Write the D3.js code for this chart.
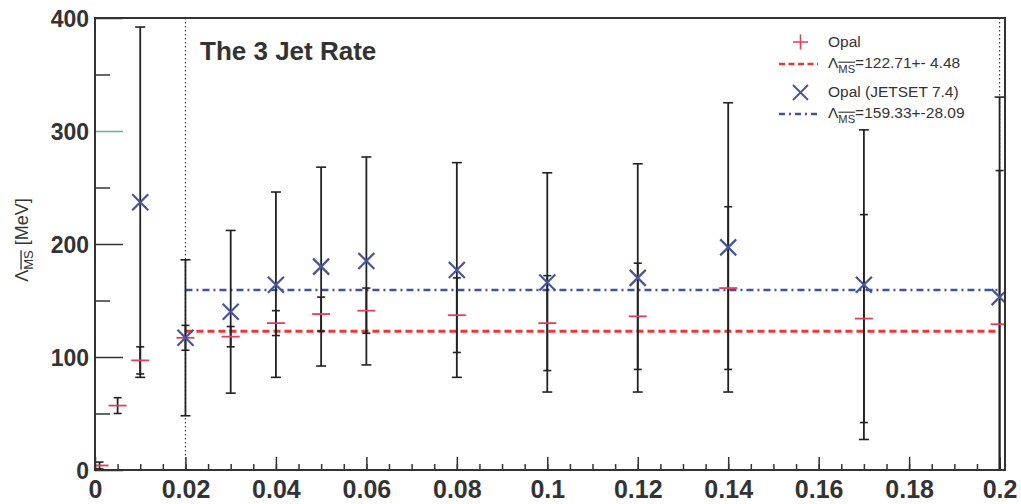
<!DOCTYPE html>
<html>
<head>
<meta charset="utf-8">
<script src="https://cdn.jsdelivr.net/npm/d3@7"></script>
<style>
  body { margin: 0; background: #fff; }
  text { font-family: "Liberation Sans", Arial, sans-serif; fill: #333; }
</style>
</head>
<body>
<div id="chart"></div>
<script>
// Opal data points (y_cut, Lambda_MS, error)
var opalX = [0.001, 0.005, 0.01, 0.02, 0.03, 0.04, 0.05, 0.06, 0.08, 0.1, 0.12, 0.14, 0.17, 0.2];
var opalY = [4, 57, 97, 117, 118, 130, 138, 141, 137, 130, 136, 161, 134, 129];
var opalErr = [3, 7, 12, 11, 9, 11, 15, 20, 33, 42, 47, 72, 92, 136];

// Opal (JETSET 7.4)
var jetX = [0.01, 0.02, 0.03, 0.04, 0.05, 0.06, 0.08, 0.1, 0.12, 0.14, 0.17, 0.2];
var jetY = [237, 117, 140, 164, 180, 185, 177, 166, 170, 197, 164, 153];
var jetErr = [155, 69, 72, 82, 88, 92, 95, 97, 101, 128, 137, 177];

// fit results
var fitOpal = 122.71, fitJet = 159.33;
var fitRange = [0.02, 0.2];

var xTicks = [0, 0.02, 0.04, 0.06, 0.08, 0.1, 0.12, 0.14, 0.16, 0.18, 0.2];
var yTicks = [0, 100, 200, 300, 400];

var width = 1021, height = 504;
var margin = { top: 18, right: 16, bottom: 34, left: 95 };

var x = d3.scaleLinear().domain([0, 0.2012]).range([margin.left, width - margin.right]);
var y = d3.scaleLinear().domain([0, 400]).range([height - margin.bottom, margin.top]);

var svg = d3.select("#chart").append("svg")
    .attr("width", width).attr("height", height);

svg.append("defs").append("clipPath").attr("id", "plot")
    .append("rect")
    .attr("x", x(0)).attr("y", y(400))
    .attr("width", x.range()[1] - x(0)).attr("height", y(0) - y(400));

// x axis: major + minor ticks pointing up
svg.append("g")
    .attr("transform", "translate(0," + y(0) + ")")
    .call(d3.axisBottom(x).tickValues(d3.range(0, 0.2001, 0.005)).tickSize(-6).tickFormat(""))
    .call(g => g.select(".domain").remove())
    .selectAll("line").attr("stroke", "#333").attr("stroke-width", 1.5);

var xa = svg.append("g")
    .attr("transform", "translate(0," + y(0) + ")")
    .call(d3.axisBottom(x).tickValues(xTicks).tickSize(-13).tickFormat(d3.format("")));
xa.select(".domain").remove();
xa.selectAll("line").attr("stroke", "#333").attr("stroke-width", 1.5);
xa.selectAll("text").attr("y", 28).attr("dy", null)
    .style("font-size", "25px").style("font-weight", "bold").attr("fill", "#333");

// y axis: long ticks pointing right
svg.append("g")
    .attr("transform", "translate(" + x(0) + ",0)")
    .call(d3.axisLeft(y).tickValues([50, 150, 250, 350]).tickSize(-15).tickFormat(""))
    .call(g => g.select(".domain").remove())
    .selectAll("line").attr("stroke", "#333").attr("stroke-width", 1.5);

var ya = svg.append("g")
    .attr("transform", "translate(" + x(0) + ",0)")
    .call(d3.axisLeft(y).tickValues(yTicks).tickSize(-28).tickPadding(6).tickFormat(d3.format("")));
ya.select(".domain").remove();
ya.selectAll("line").attr("stroke", function (d) { return d == 300 ? "#5fb59a" : "#333"; }).attr("stroke-width", 1.5);
ya.selectAll("text").style("font-size", "23px").style("font-weight", "bold").attr("fill", "#333").attr("dy", "0.35em");

// dotted verticals at fit range
svg.selectAll(".vline").data(fitRange).enter().append("line")
    .attr("x1", d => x(d)).attr("x2", d => x(d))
    .attr("y1", y(400)).attr("y2", y(0))
    .attr("stroke", "#444").attr("stroke-width", 1.2)
    .attr("stroke-dasharray", "1.5,2.5");

var plot = svg.append("g").attr("clip-path", "url(#plot)");

// fit lines
plot.append("line")
    .attr("x1", x(fitRange[0])).attr("x2", x(fitRange[1]))
    .attr("y1", y(fitOpal)).attr("y2", y(fitOpal))
    .attr("stroke", "#e8383a").attr("stroke-width", 3).attr("stroke-dasharray", "7,4");
plot.append("line")
    .attr("x1", x(fitRange[0])).attr("x2", x(fitRange[1]))
    .attr("y1", y(fitJet)).attr("y2", y(fitJet))
    .attr("stroke", "#3b55a0").attr("stroke-width", 2.5).attr("stroke-dasharray", "7,4,2,4");

// error bars with caps
function errorBars(xs, ys, es, cap, cls) {
    var g = plot.selectAll("." + cls).data(xs).enter().append("g").attr("class", cls);
    g.append("line")
        .attr("x1", (d) => x(d)).attr("x2", (d) => x(d))
        .attr("y1", (d, i) => y(ys[i] + es[i])).attr("y2", (d, i) => y(ys[i] - es[i]))
        .attr("stroke", "#222").attr("stroke-width", 1.8);
    [1, -1].forEach(function (s) {
        g.append("line")
            .attr("x1", (d) => x(d) - cap).attr("x2", (d) => x(d) + cap)
            .attr("y1", (d, i) => y(ys[i] + s * es[i])).attr("y2", (d, i) => y(ys[i] + s * es[i]))
            .attr("stroke", "#222").attr("stroke-width", 1.6);
    });
}
errorBars(jetX, jetY, jetErr, 5, "ejet");
errorBars(opalX, opalY, opalErr, 4, "eopal");

// Opal markers: red crosses
plot.selectAll(".mopal").data(opalX).enter().append("path")
    .attr("d", (d, i) => "M" + (x(d) - 9) + "," + y(opalY[i]) + "h18")
    .attr("stroke", "#e0405a").attr("stroke-width", 1.8);

// JETSET markers: blue X
plot.selectAll(".mjet").data(jetX).enter().append("path")
    .attr("d", function (d, i) {
        var cx = x(d), cy = y(jetY[i]), r = 8;
        return "M" + (cx - r) + "," + (cy - r) + "L" + (cx + r) + "," + (cy + r) +
            "M" + (cx - r) + "," + (cy + r) + "L" + (cx + r) + "," + (cy - r);
    })
    .attr("stroke", "#46559a").attr("stroke-width", 2.2);

// frame
svg.append("rect")
    .attr("x", x(0)).attr("y", y(400))
    .attr("width", x.range()[1] - x(0)).attr("height", y(0) - y(400))
    .attr("fill", "none").attr("stroke", "#333").attr("stroke-width", 2);

// title
svg.append("text")
    .attr("x", 200).attr("y", 60)
    .style("font-size", "26px").style("font-weight", "bold")
    .text("The 3 Jet Rate");

// y label
function lambdaLabel(sel, size, rest) {
    sel.append("tspan").text("\u039B");
    sel.append("tspan").attr("dy", size * 0.3).style("font-size", (size * 0.72) + "px")
        .attr("text-decoration", "overline").style("text-decoration", "overline").text("MS");
    sel.append("tspan").attr("dy", -size * 0.3).text(rest);
}
var yl = svg.append("text")
    .attr("transform", "translate(28,240) rotate(-90)")
    .attr("text-anchor", "middle")
    .style("font-size", "18px");
lambdaLabel(yl, 18, " [MeV]");

// legend
var lg = svg.append("g").style("font-size", "15.5px");
var lx = 828;
lg.append("path").attr("d", "M793,42h15M800.5,34.5v15").attr("stroke", "#e0405a").attr("stroke-width", 1.6);
lg.append("text").attr("x", lx).attr("y", 47).text("Opal");
lg.append("line").attr("x1", 779).attr("x2", 818).attr("y1", 64).attr("y2", 64)
    .attr("stroke", "#e8383a").attr("stroke-width", 2.5).attr("stroke-dasharray", "6,3.5");
lambdaLabel(lg.append("text").attr("x", lx).attr("y", 68), 15.5, "=122.71+- 4.48");
lg.append("path").attr("d", "M793,85l15,15M793,100l15,-15").attr("stroke", "#46559a").attr("stroke-width", 1.8);
lg.append("text").attr("x", lx).attr("y", 97).text("Opal (JETSET 7.4)");
lg.append("line").attr("x1", 779).attr("x2", 818).attr("y1", 114).attr("y2", 114)
    .attr("stroke", "#3b55a0").attr("stroke-width", 2.5).attr("stroke-dasharray", "6,4,2,4");
lambdaLabel(lg.append("text").attr("x", lx).attr("y", 118), 15.5, "=159.33+-28.09");
</script>
</body>
</html>
